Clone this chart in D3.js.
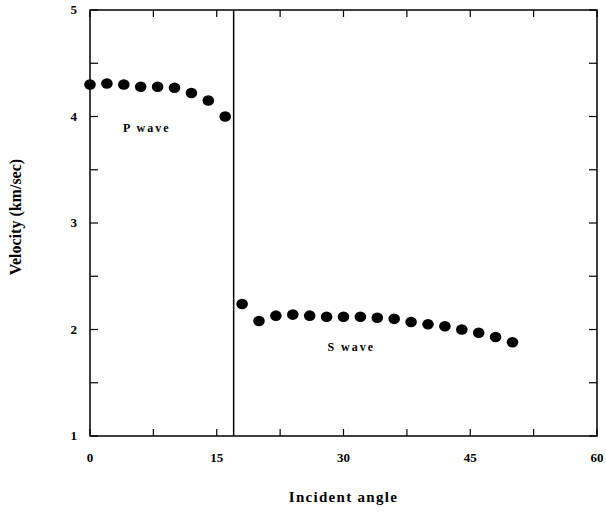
<!DOCTYPE html>
<html>
<head>
<meta charset="utf-8">
<script src="https://cdn.jsdelivr.net/npm/d3@7.9.0/dist/d3.min.js"></script>
<style>
  body { margin: 0; background: #fff; }
  text { font-family: "Liberation Serif", "Times New Roman", serif; font-weight: bold; }
</style>
</head>
<body>
<svg width="606" height="513"></svg>
<script>
// P wave points (angle, velocity)
const pAngles = [0, 2, 4, 6, 8, 10, 12, 14, 16];
const pVel = [4.30, 4.31, 4.30, 4.28, 4.28, 4.27, 4.22, 4.15, 4.00];
// S wave points
const sAngles = [18, 20, 22, 24, 26, 28, 30, 32, 34, 36, 38, 40, 42, 44, 46, 48, 50];
const sVel = [2.24, 2.08, 2.13, 2.14, 2.13, 2.12, 2.12, 2.12, 2.11, 2.10, 2.07, 2.05, 2.03, 2.00, 1.97, 1.93, 1.88];
const criticalAngle = 17;
const xTicks = [0, 15, 30, 45, 60];
const yTicks = [1, 2, 3, 4, 5];

const svg = d3.select("svg"),
      margin = {top: 10, right: 9, bottom: 77, left: 90},
      width = 606 - margin.left - margin.right,
      height = 513 - margin.top - margin.bottom;

const g = svg.append("g").attr("transform", `translate(${margin.left},${margin.top})`);

const x = d3.scaleLinear().domain([0, 60]).range([0, width]);
const y = d3.scaleLinear().domain([1, 5]).range([height, 0]);

// frame
g.append("rect")
  .attr("width", width).attr("height", height)
  .attr("fill", "none").attr("stroke", "#000").attr("stroke-width", 1.5);

// inward ticks on all four sides
const xt = d3.range(0, 60.1, 7.5);
const yt = d3.range(1, 5.01, 0.5);
g.selectAll(".xtb").data(xt).enter().append("line")
  .attr("x1", d => x(d)).attr("x2", d => x(d))
  .attr("y1", height).attr("y2", height - 7)
  .attr("stroke", "#000").attr("stroke-width", 1.2);
g.selectAll(".xtt").data(xt).enter().append("line")
  .attr("x1", d => x(d)).attr("x2", d => x(d))
  .attr("y1", 0).attr("y2", 7)
  .attr("stroke", "#000").attr("stroke-width", 1.2);
g.selectAll(".ytl").data(yt).enter().append("line")
  .attr("x1", 0).attr("x2", 8)
  .attr("y1", d => y(d)).attr("y2", d => y(d))
  .attr("stroke", "#000").attr("stroke-width", 1.2);
g.selectAll(".ytr").data(yt).enter().append("line")
  .attr("x1", width).attr("x2", width - 8)
  .attr("y1", d => y(d)).attr("y2", d => y(d))
  .attr("stroke", "#000").attr("stroke-width", 1.2);

// tick labels
g.selectAll(".xl").data(xTicks).enter().append("text")
  .attr("x", d => x(d)).attr("y", height + 26)
  .attr("text-anchor", "middle").style("font-size", "13px")
  .text(d => d);
g.selectAll(".yl").data(yTicks).enter().append("text")
  .attr("x", -13).attr("y", d => y(d) + 4)
  .attr("text-anchor", "end").style("font-size", "13px")
  .text(d => d);

// critical angle line
g.append("line")
  .attr("x1", x(criticalAngle)).attr("x2", x(criticalAngle))
  .attr("y1", 0).attr("y2", height)
  .attr("stroke", "#000").attr("stroke-width", 1.5);

// points
const pData = pAngles.map((a, i) => ({a, v: pVel[i]}));
const sData = sAngles.map((a, i) => ({a, v: sVel[i]}));
g.selectAll(".p").data(pData.concat(sData)).enter().append("ellipse")
  .attr("cx", d => x(d.a)).attr("cy", d => y(d.v))
  .attr("rx", 5.8).attr("ry", 5.3)
  .attr("fill", "#000");

// annotations
g.append("text").attr("x", x(3.9)).attr("y", y(3.85))
  .style("font-size", "12px").attr("letter-spacing", "2px").text("P wave");
g.append("text").attr("x", x(28.1)).attr("y", y(1.8))
  .style("font-size", "12px").attr("letter-spacing", "2px").text("S wave");

// axis titles
svg.append("text")
  .attr("x", margin.left + width / 2).attr("y", 502)
  .attr("text-anchor", "middle").style("font-size", "15px")
  .attr("letter-spacing", "1.3px")
  .text("Incident angle");
svg.append("text")
  .attr("transform", "rotate(-90)")
  .attr("x", -217).attr("y", 21)
  .attr("text-anchor", "middle").style("font-size", "16px")
  .text("Velocity (km/sec)");
</script>
</body>
</html>
